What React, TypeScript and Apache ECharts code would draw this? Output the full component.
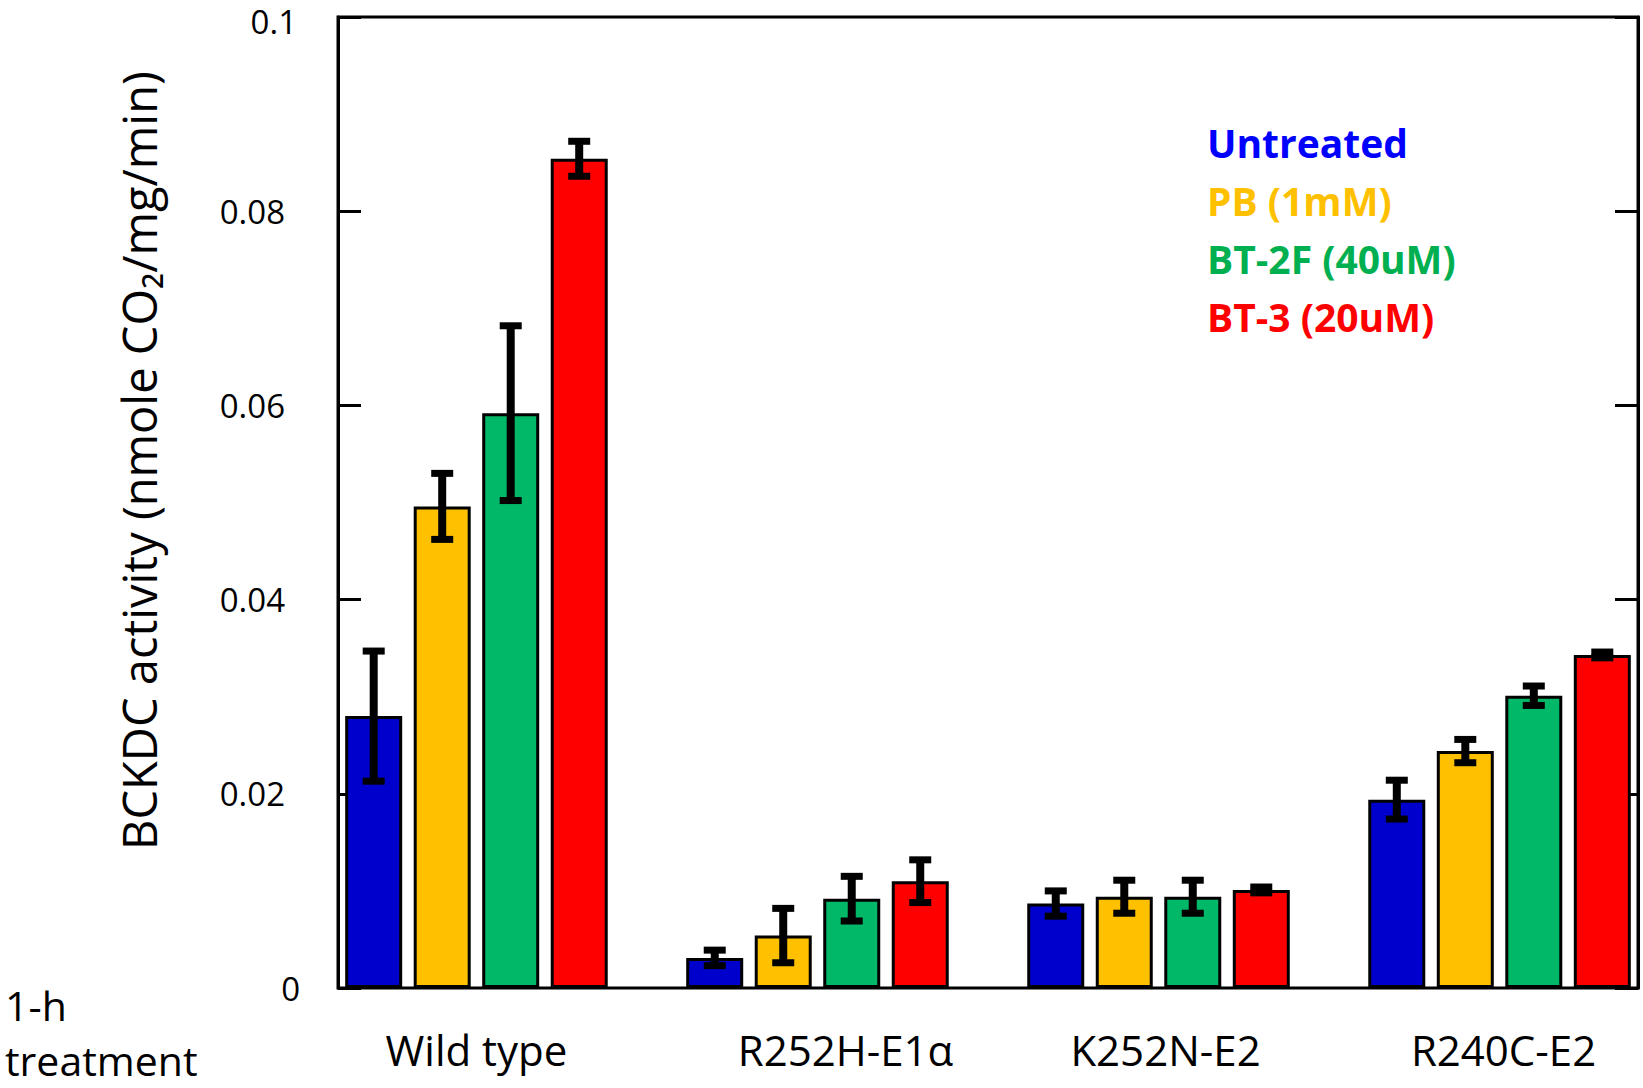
import React, { useEffect, useRef } from "react";
import * as echarts from "echarts";

const categories = ["Wild type", "R252H-E1α", "K252N-E2", "R240C-E2"];
const treatments = ["Untreated", "PB (1mM)", "BT-2F (40uM)", "BT-3 (20uM)"];
const barColors = ["#0000CC", "#FFC000", "#00B868", "#FF0000"];
const legendColors = ["#0000FF", "#FFC000", "#00B050", "#FF0000"];

const untreated = [0.028, 0.0031, 0.0087, 0.0194];
const pb = [0.0496, 0.0054, 0.0094, 0.0244];
const bt2f = [0.0592, 0.0092, 0.0094, 0.0301];
const bt3 = [0.0854, 0.011, 0.0101, 0.0343];

const untreatedErr = [0.0067, 0.0008, 0.0013, 0.002];
const pbErr = [0.0034, 0.0028, 0.0017, 0.0012];
const bt2fErr = [0.009, 0.0023, 0.0017, 0.001];
const bt3Err = [0.0018, 0.0022, 0.0003, 0.0003];

const yMin = 0;
const yMax = 0.1;
const yInterval = 0.02;

const means = [untreated, pb, bt2f, bt3];
const errs = [untreatedErr, pbErr, bt2fErr, bt3Err];

const FONT = "'Open Sans', 'Noto Sans', sans-serif";
const BAR_W = 57;
const BAR_GAP = 11.5;
const EDGE_PAD = 0.406;
// label nudges (styling only)
const catLabelPad = [0, 56, 14, 8];

export default function App() {
  const ref = useRef<HTMLDivElement>(null);
  useEffect(() => {
    if (!ref.current) return;
    const chart = echarts.init(ref.current, null, { renderer: "svg" });

    const barSeries = treatments.map((name, k) => ({
      type: "bar",
      name,
      data: means[k].map((v, i) => [i, v]),
      barWidth: BAR_W,
      barGap: ((BAR_GAP / BAR_W) * 100).toFixed(1) + "%",
      itemStyle: { color: barColors[k], borderColor: "#000", borderWidth: 3 },
      z: 2,
    }));

    const errSeries = treatments.map((name, k) => ({
      type: "custom",
      name: name + " error",
      data: means[k].map((v, i) => [i, v, errs[k][i]]),
      z: 5,
      renderItem: (params: any, api: any) => {
        const x = api.value(0);
        const y = api.value(1);
        const e = api.value(2);
        const off = (k - (treatments.length - 1) / 2) * (BAR_W + BAR_GAP);
        const top = api.coord([x, y + e]);
        const bot = api.coord([x, y - e]);
        const cx = top[0] + off;
        const half = 11;
        const st = { stroke: "#000", lineWidth: 7 };
        return {
          type: "group",
          children: [
            { type: "line", shape: { x1: cx, y1: top[1], x2: cx, y2: bot[1] }, style: { stroke: "#000", lineWidth: 8 } },
            { type: "line", shape: { x1: cx - half, y1: top[1], x2: cx + half, y2: top[1] }, style: st },
            { type: "line", shape: { x1: cx - half, y1: bot[1], x2: cx + half, y2: bot[1] }, style: st },
          ],
        };
      },
    }));

    const catRich: any = {};
    catLabelPad.forEach((p, i) => {
      catRich["c" + i] = { fontSize: 42, color: "#000", fontFamily: FONT, padding: [0, 0, 0, p] };
    });

    chart.setOption({
      animation: false,
      backgroundColor: "#fff",
      textStyle: { fontFamily: FONT },
      grid: {
        left: 338,
        right: 5,
        top: 17,
        bottom: 100,
        show: true,
        borderColor: "#000",
        borderWidth: 3,
        backgroundColor: "transparent",
        outerBoundsMode: "none",
        containLabel: false,
      },
      legend: {
        orient: "vertical",
        left: 1202,
        top: 119,
        padding: 0,
        itemWidth: 0,
        itemHeight: 0,
        itemGap: 12,
        icon: "none",
        selectedMode: false,
        data: treatments.map((t, k) => ({
          name: t,
          textStyle: {
            color: legendColors[k],
            fontWeight: "bold",
            fontSize: 39,
            lineHeight: 46,
            fontFamily: FONT,
          },
        })),
      },
      xAxis: {
        type: "value",
        min: -EDGE_PAD,
        max: categories.length - 1 + EDGE_PAD,
        splitLine: { show: false },
        axisLine: { show: false },
        axisTick: { show: false },
        axisLabel: {
          customValues: categories.map((_, i) => i),
          formatter: (v: number) => {
            const i = Math.round(v);
            return categories[i] !== undefined ? `{c${i}|${categories[i]}}` : "";
          },
          rich: catRich,
          fontSize: 42,
          color: "#000",
          margin: 40,
          fontFamily: FONT,
        },
      },
      yAxis: [
        {
          type: "value",
          min: yMin,
          max: yMax,
          interval: yInterval,
          position: "left",
          name: "BCKDC activity (nmole CO₂/mg/min)",
          nameLocation: "middle",
          nameRotate: 90,
          nameGap: 176,
          nameTextStyle: { fontSize: 47, color: "#000", fontFamily: FONT, padding: [0, 0, 0, 84] },
          splitLine: { show: false },
          axisLine: { show: true, onZero: false, lineStyle: { color: "#000", width: 3 } },
          axisTick: { show: true, inside: true, length: 23, lineStyle: { color: "#000", width: 3 } },
          axisLabel: {
            fontSize: 33,
            lineHeight: 30,
            color: "#000",
            margin: 38,
            fontFamily: FONT,
            formatter: (v: number) => {
              const s = String(+v.toFixed(4));
              if (v === yMin) return `{z|${s}}`;
              if (v === yMax) return `{t|${s}}`;
              return `{m|${s}}`;
            },
            rich: {
              z: { fontSize: 33, lineHeight: 30, color: "#000", fontFamily: FONT, padding: [0, 0, 0, 0] },
              t: { fontSize: 33, lineHeight: 30, color: "#000", fontFamily: FONT, padding: [8, 3, 0, 0] },
              m: { fontSize: 33, lineHeight: 30, color: "#000", fontFamily: FONT, padding: [0, 15, 0, 0] },
            },
          },
        },
        {
          type: "value",
          min: yMin,
          max: yMax,
          interval: yInterval,
          position: "right",
          splitLine: { show: false },
          axisLine: { show: true, onZero: false, lineStyle: { color: "#000", width: 3 } },
          axisTick: { show: true, inside: true, length: 23, lineStyle: { color: "#000", width: 3 } },
          axisLabel: { show: false },
        },
      ],
      graphic: [
        {
          type: "text",
          x: 5,
          y: 1005,
          style: { text: "1-h", font: `41px ${FONT}`, lineHeight: 41, fill: "#000", verticalAlign: "middle" },
        },
        {
          type: "text",
          x: 5,
          y: 1060,
          style: { text: "treatment", font: `41px ${FONT}`, lineHeight: 41, fill: "#000", verticalAlign: "middle" },
        },
      ],
      series: [...barSeries, ...errSeries],
    });

    return () => chart.dispose();
  }, []);

  return (
    <div
      ref={ref}
      style={{ position: "fixed", left: 0, top: 0, width: 1643, height: 1088, background: "#fff" }}
    />
  );
}
